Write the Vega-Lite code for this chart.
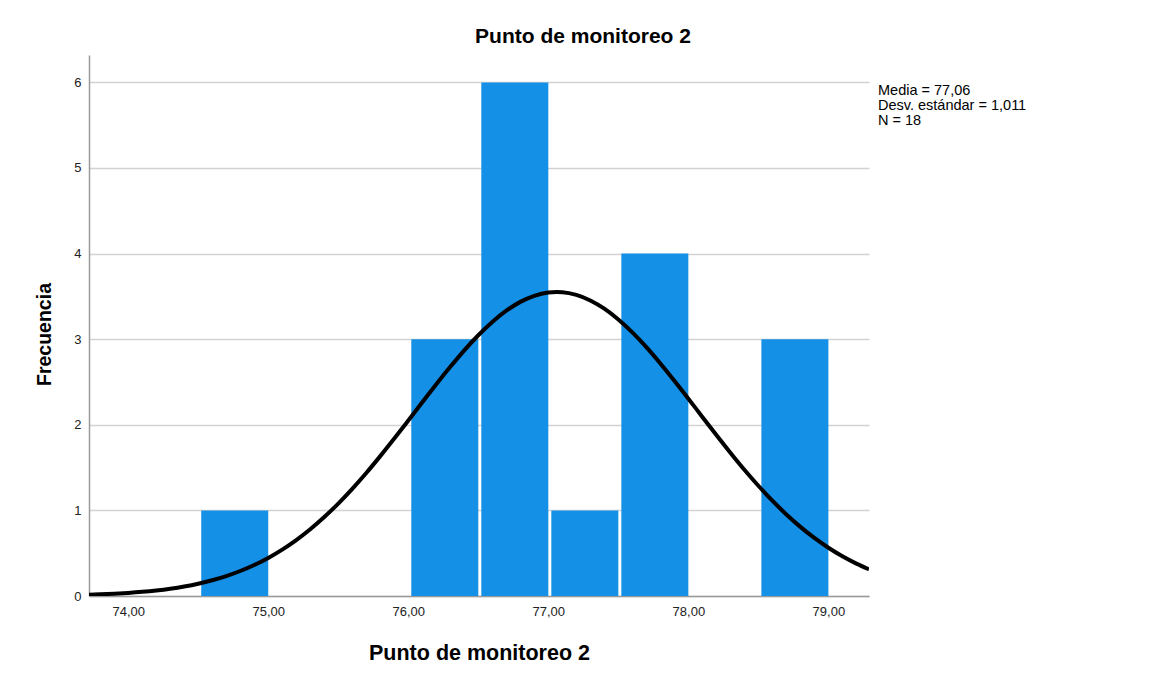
{
  "$schema": "https://vega.github.io/schema/vega-lite/v6.json",
  "width": 780,
  "height": 541,
  "autosize": "none",
  "padding": {"left": 89, "top": 55, "right": 294, "bottom": 83},
  "background": "white",
  "config": {
    "font": "Liberation Sans",
    "view": {"stroke": null},
    "axis": {
      "labelFont": "Liberation Sans",
      "titleFont": "Liberation Sans",
      "labelColor": "#222",
      "titleColor": "#000",
      "domainColor": "#9a9a9a",
      "domainWidth": 1.5,
      "gridColor": "#d2d2d2",
      "gridWidth": 1.5,
      "ticks": false
    }
  },
  "title": {
    "text": "Punto de monitoreo 2",
    "font": "Liberation Sans",
    "fontSize": 21,
    "fontWeight": "bold",
    "color": "#000",
    "anchor": "middle",
    "dx": 104,
    "offset": 8
  },
  "datasets": {
    "bins": [
      {"start": 74.5, "end": 75.0, "count": 1},
      {"start": 76.0, "end": 76.5, "count": 3},
      {"start": 76.5, "end": 77.0, "count": 6},
      {"start": 77.0, "end": 77.5, "count": 1},
      {"start": 77.5, "end": 78.0, "count": 4},
      {"start": 78.5, "end": 79.0, "count": 3}
    ],
    "curve": [
      {"x": 73.72, "y": 0.0151},
      {"x": 73.8, "y": 0.0196},
      {"x": 73.9, "y": 0.0269},
      {"x": 74.0, "y": 0.0364},
      {"x": 74.1, "y": 0.0489},
      {"x": 74.2, "y": 0.065},
      {"x": 74.3, "y": 0.0855},
      {"x": 74.4, "y": 0.1115},
      {"x": 74.5, "y": 0.1439},
      {"x": 74.6, "y": 0.1841},
      {"x": 74.7, "y": 0.2329},
      {"x": 74.8, "y": 0.2919},
      {"x": 74.9, "y": 0.3624},
      {"x": 75.0, "y": 0.4453},
      {"x": 75.1, "y": 0.5423},
      {"x": 75.2, "y": 0.6538},
      {"x": 75.3, "y": 0.7806},
      {"x": 75.4, "y": 0.9226},
      {"x": 75.5, "y": 1.08},
      {"x": 75.6, "y": 1.252},
      {"x": 75.7, "y": 1.437},
      {"x": 75.8, "y": 1.634},
      {"x": 75.9, "y": 1.839},
      {"x": 76.0, "y": 2.05},
      {"x": 76.1, "y": 2.263},
      {"x": 76.2, "y": 2.474},
      {"x": 76.3, "y": 2.677},
      {"x": 76.4, "y": 2.87},
      {"x": 76.5, "y": 3.046},
      {"x": 76.6, "y": 3.202},
      {"x": 76.7, "y": 3.333},
      {"x": 76.8, "y": 3.436},
      {"x": 76.9, "y": 3.507},
      {"x": 77.0, "y": 3.545},
      {"x": 77.06, "y": 3.551},
      {"x": 77.1, "y": 3.549},
      {"x": 77.2, "y": 3.518},
      {"x": 77.3, "y": 3.453},
      {"x": 77.4, "y": 3.356},
      {"x": 77.5, "y": 3.23},
      {"x": 77.6, "y": 3.079},
      {"x": 77.7, "y": 2.907},
      {"x": 77.8, "y": 2.717},
      {"x": 77.9, "y": 2.515},
      {"x": 78.0, "y": 2.305},
      {"x": 78.1, "y": 2.092},
      {"x": 78.2, "y": 1.881},
      {"x": 78.3, "y": 1.674},
      {"x": 78.4, "y": 1.475},
      {"x": 78.5, "y": 1.288},
      {"x": 78.6, "y": 1.113},
      {"x": 78.7, "y": 0.9528},
      {"x": 78.8, "y": 0.8076},
      {"x": 78.9, "y": 0.678},
      {"x": 79.0, "y": 0.5633},
      {"x": 79.1, "y": 0.4638},
      {"x": 79.2, "y": 0.3779},
      {"x": 79.29, "y": 0.3118}
    ],
    "stats": [
      {"label": ["Media = 77,06", "Desv. estándar = 1,011", "N = 18"]}
    ]
  },
  "layer": [
    {
      "data": {"name": "bins"},
      "mark": {"type": "rect", "color": "#1490e6", "xOffset": 3},
      "encoding": {
        "x": {
          "field": "start",
          "type": "quantitative",
          "scale": {"domain": [73.72, 79.29], "nice": false, "zero": false},
          "axis": {
            "title": "Punto de monitoreo 2",
            "titleFontSize": 21.5,
            "titleFontWeight": "bold",
            "titlePadding": 24,
            "values": [74, 75, 76, 77, 78, 79],
            "labelExpr": "replace(format(datum.value, '.2f'), '.', ',')",
            "labelFontSize": 13,
            "labelPadding": 9,
            "grid": false
          }
        },
        "x2": {"field": "end"},
        "y": {
          "field": "count",
          "type": "quantitative",
          "scale": {"domain": [0, 6.32], "nice": false},
          "axis": {
            "title": "Frecuencia",
            "titleFontSize": 19.5,
            "titleFontWeight": "bold",
            "titlePadding": 19,
            "titleY": 279,
            "values": [0, 1, 2, 3, 4, 5, 6],
            "format": "d",
            "labelFontSize": 13,
            "labelPadding": 8,
            "grid": true
          }
        },
        "y2": {"datum": 0}
      }
    },
    {
      "data": {"name": "curve"},
      "mark": {"type": "line", "color": "#000", "strokeWidth": 4, "interpolate": "monotone", "clip": true},
      "encoding": {
        "x": {"field": "x", "type": "quantitative"},
        "y": {"field": "y", "type": "quantitative"}
      }
    },
    {
      "data": {"name": "stats"},
      "mark": {
        "type": "text",
        "align": "left",
        "baseline": "top",
        "font": "Liberation Sans",
        "fontSize": 14.5,
        "lineHeight": 15,
        "color": "#000",
        "dx": 9,
        "dy": 2
      },
      "encoding": {
        "x": {"datum": 79.29, "type": "quantitative"},
        "y": {"datum": 6, "type": "quantitative"},
        "text": {"field": "label"}
      }
    }
  ]
}
